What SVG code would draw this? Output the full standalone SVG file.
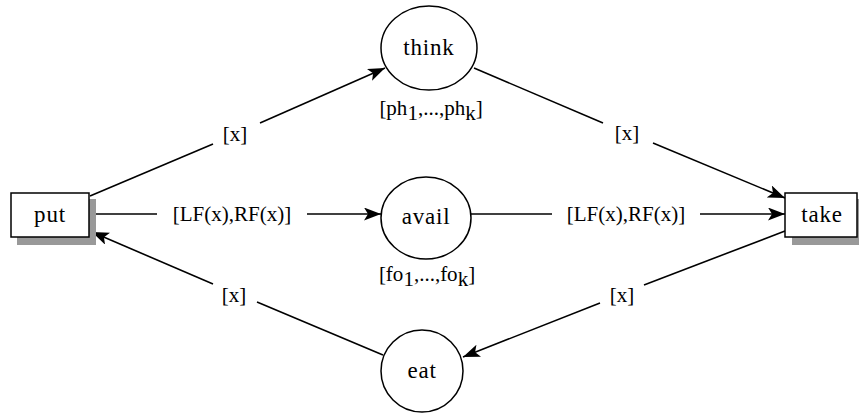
<svg xmlns="http://www.w3.org/2000/svg" width="859" height="413" viewBox="0 0 859 413">
  <style>
    .place { fill: #fff; stroke: #000; stroke-width: 1.5; }
    .trans { fill: #fff; stroke: #000; stroke-width: 1.5; }
    .shadow { fill: #999; stroke: none; }
    .arc { fill: none; stroke: #000; stroke-width: 1.6; }
    text { font-family: "Liberation Serif", "DejaVu Serif", serif; font-size: 21px; fill: #000; }
    .lbl { text-anchor: middle; }
    .name { text-anchor: middle; font-size: 23px; letter-spacing: 0.8px; }
  </style>
  <defs>
    <marker id="arrow" markerWidth="17" markerHeight="13" refX="17" refY="6.5" orient="auto" markerUnits="userSpaceOnUse">
      <path d="M0,0 L17,6.5 L0,13 L4,6.5 Z" fill="#000"/>
    </marker>
  </defs>

  <!-- arcs between transitions and places; each split around its inscription -->
  <g id="arcs">
    <!-- put -> think -->
    <line class="arc" x1="90" y1="196" x2="213" y2="144"/>
    <line class="arc" x1="260" y1="123" x2="385" y2="68" marker-end="url(#arrow)"/>
    <text class="lbl" x="235" y="141">[x]</text>
    <!-- think -> take -->
    <line class="arc" x1="474" y1="68" x2="603" y2="123"/>
    <line class="arc" x1="653" y1="143" x2="785" y2="198" marker-end="url(#arrow)"/>
    <text class="lbl" x="627" y="140">[x]</text>
    <!-- put -> avail -->
    <line class="arc" x1="89" y1="214" x2="157" y2="214"/>
    <line class="arc" x1="307" y1="214" x2="381" y2="214" marker-end="url(#arrow)"/>
    <text class="lbl" x="232" y="221">[LF(x),RF(x)]</text>
    <!-- avail -> take -->
    <line class="arc" x1="471" y1="214" x2="552" y2="214"/>
    <line class="arc" x1="700" y1="214" x2="785" y2="214" marker-end="url(#arrow)"/>
    <text class="lbl" x="626" y="221">[LF(x),RF(x)]</text>
    <!-- take -> eat -->
    <line class="arc" x1="785" y1="231" x2="644" y2="285"/>
    <line class="arc" x1="600" y1="303" x2="463" y2="357" marker-end="url(#arrow)"/>
    <text class="lbl" x="622" y="302">[x]</text>
    <!-- eat -> put -->
    <line class="arc" x1="383" y1="355" x2="257" y2="302"/>
    <line class="arc" x1="213" y1="284" x2="92" y2="232" marker-end="url(#arrow)"/>
    <text class="lbl" x="234" y="302">[x]</text>
  </g>

  <g id="think">
    <ellipse class="place" cx="429" cy="48" rx="48" ry="42"/>
    <text class="name" x="429" y="55">think</text>
    <text class="lbl" x="431" y="115">[ph<tspan dy="5">1</tspan><tspan dy="-5">,...,ph</tspan><tspan dy="5">k</tspan><tspan dy="-5">]</tspan></text>
  </g>

  <g id="avail">
    <ellipse class="place" cx="426" cy="218" rx="45" ry="41"/>
    <text class="name" x="426" y="224">avail</text>
    <text class="lbl" x="427" y="281">[fo<tspan dy="5">1</tspan><tspan dy="-5">,...,fo</tspan><tspan dy="5">k</tspan><tspan dy="-5">]</tspan></text>
  </g>

  <g id="eat">
    <ellipse class="place" cx="422" cy="371" rx="41" ry="41"/>
    <text class="name" x="422" y="378">eat</text>
  </g>

  <g id="put">
    <rect class="shadow" x="17" y="199" width="79" height="46"/>
    <rect class="trans" x="11" y="193" width="78" height="44"/>
    <text class="name" x="50" y="222">put</text>
  </g>

  <g id="take">
    <rect class="shadow" x="792" y="199" width="79" height="46"/>
    <rect class="trans" x="785" y="193" width="72" height="44"/>
    <text class="name" x="822" y="222">take</text>
  </g>
</svg>
